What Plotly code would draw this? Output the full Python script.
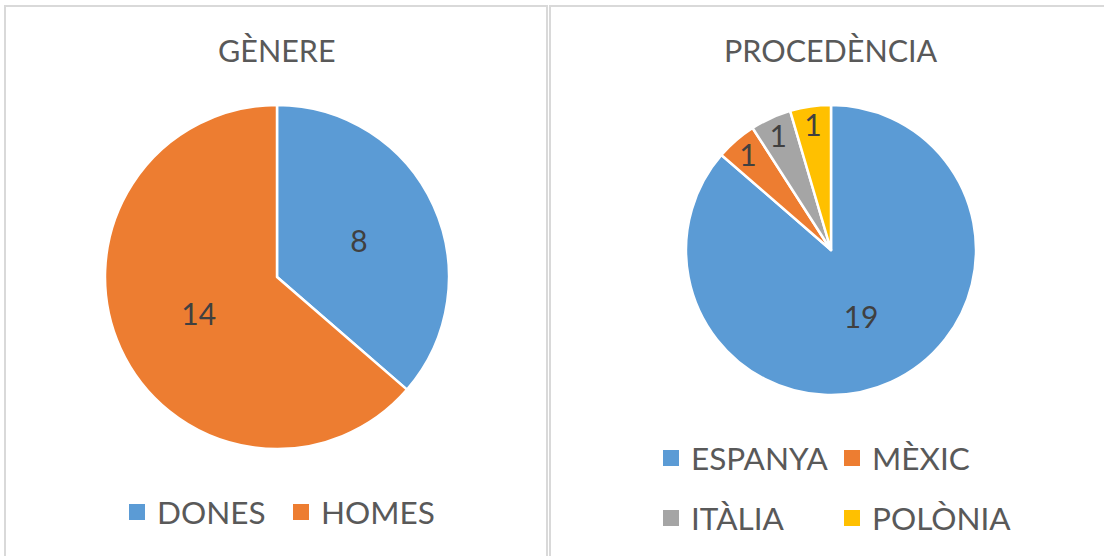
import plotly.graph_objects as go

# chart data
genere_labels = ["DONES", "HOMES"]
genere_values = [8, 14]

procedencia_labels = ["ESPANYA", "MÈXIC", "ITÀLIA", "POLÒNIA"]
procedencia_values = [19, 1, 1, 1]

colors = ["#5B9BD5", "#ED7D31", "#A5A5A5", "#FFC000"]

W, H = 1104, 556
FONT = "Lato"
TEXT_COLOR = "#595959"


def px_x(x):
    return x / W


def px_y(y):
    # pixel from top -> paper coordinate
    return 1 - y / H


def pie_domain(cx, cy, r):
    return dict(
        x=[px_x(cx - r), px_x(cx + r)],
        y=[px_y(cy + r), px_y(cy - r)],
    )


def make_pie(labels, values, domain):
    return go.Pie(
        labels=labels,
        values=values,
        domain=domain,
        sort=False,
        direction="clockwise",
        rotation=0,
        marker=dict(colors=colors[: len(values)], line=dict(color="white", width=2.5)),
        textinfo="value",
        textposition="inside",
        insidetextorientation="horizontal",
        textfont=dict(family=FONT, size=30, color="#404040"),
        showlegend=False,
        hoverinfo="label+value",
    )


def legend_entries(labels, cols, legend_name):
    # dummy traces only used to get square legend markers
    ret = []
    for label, col in zip(labels, cols):
        ret.append(
            go.Scatter(
                x=[None],
                y=[None],
                name=label,
                mode="markers",
                marker=dict(symbol="square", size=16, color=col),
                legend=legend_name,
                showlegend=True,
            )
        )
    return ret


fig = go.Figure()
fig.add_trace(make_pie(genere_labels, genere_values, pie_domain(277, 277, 172)))
fig.add_trace(make_pie(procedencia_labels, procedencia_values, pie_domain(831, 250, 145)))

fig.add_traces(legend_entries(genere_labels, colors[:2], "legend"))
fig.add_traces(legend_entries(procedencia_labels[:2], colors[:2], "legend2"))
fig.add_traces(legend_entries(procedencia_labels[2:], colors[2:], "legend3"))

legend_style = dict(
    orientation="h",
    font=dict(family=FONT, size=31.5, color=TEXT_COLOR),
    bgcolor="rgba(0,0,0,0)",
    xanchor="left",
    yanchor="middle",
    entrywidthmode="pixels",
    itemclick=False,
    itemdoubleclick=False,
)

title_font = dict(family=FONT, size=30.5, color=TEXT_COLOR)

fig.update_layout(
    width=W,
    height=H,
    autosize=False,
    margin=dict(l=0, r=0, t=0, b=0),
    paper_bgcolor="white",
    plot_bgcolor="white",
    xaxis=dict(visible=False),
    yaxis=dict(visible=False),
    legend=dict(legend_style, x=px_x(117), y=px_y(512), entrywidth=119),
    legend2=dict(legend_style, x=px_x(651), y=px_y(458), entrywidth=136),
    legend3=dict(legend_style, x=px_x(651), y=px_y(518), entrywidth=136),
    annotations=[
        dict(text="GÈNERE", x=px_x(277), y=px_y(50), xref="paper", yref="paper",
             xanchor="center", yanchor="middle", showarrow=False, font=title_font),
        dict(text="PROCEDÈNCIA", x=px_x(831), y=px_y(50), xref="paper", yref="paper",
             xanchor="center", yanchor="middle", showarrow=False, font=title_font),
    ],
    shapes=[
        # chart area borders
        dict(type="rect", xref="paper", yref="paper", x0=px_x(5), x1=px_x(547),
             y0=-0.05, y1=px_y(6), line=dict(color="#D9D9D9", width=2)),
        dict(type="rect", xref="paper", yref="paper", x0=px_x(550), x1=1.05,
             y0=-0.05, y1=px_y(6), line=dict(color="#D9D9D9", width=2)),
    ],
    uniformtext=dict(mode="show", minsize=30),
)

# drop the default page margin so the figure sits at the window corner
fig.write_html(
    "out.html",
    config={"displayModeBar": False},
    post_script="document.body.style.margin='0';",
)
